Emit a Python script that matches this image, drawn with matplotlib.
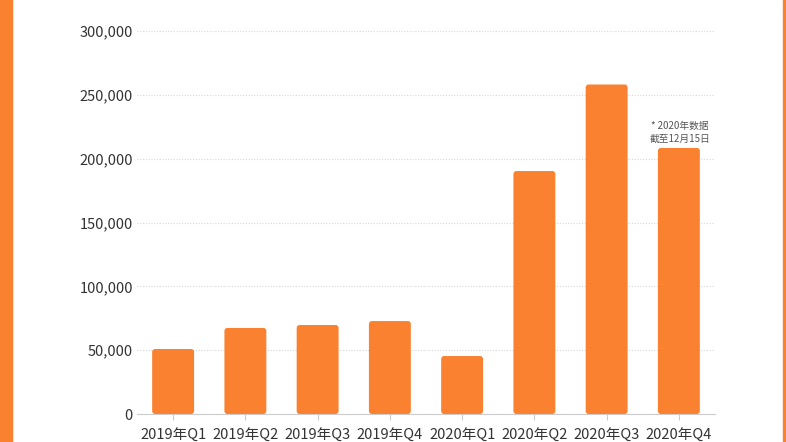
import matplotlib
matplotlib.use("Agg")
import matplotlib.pyplot as plt
from matplotlib.patches import FancyBboxPatch, Rectangle
from matplotlib.ticker import FuncFormatter

plt.rcParams["font.family"] = ["Noto Sans CJK SC", "DejaVu Sans"]

quarters = ["2019年Q1", "2019年Q2", "2019年Q3", "2019年Q4",
            "2020年Q1", "2020年Q2", "2020年Q3", "2020年Q4"]
counts = [50900, 67400, 69700, 72800, 45400, 190300, 258100, 208400]
yticks = [0, 50000, 100000, 150000, 200000, 250000, 300000]
note = "* 2020年数据\n截至12月15日"

ORANGE = "#F98130"
TEXT = "#333333"

fig = plt.figure(figsize=(7.86, 4.42), dpi=100)
# orange side strips
fig.patches.append(Rectangle((0, 0), 12 / 786, 1, transform=fig.transFigure,
                             color=ORANGE, zorder=0))
fig.patches.append(Rectangle((783 / 786, 0), 3 / 786, 1, transform=fig.transFigure,
                             color=ORANGE, zorder=0))

ax = fig.add_axes([137 / 786, 28 / 442, 578 / 786, 383 / 442])
x = list(range(len(quarters)))
bars = ax.bar(x, counts, width=0.58, color=ORANGE, zorder=2)

# swap plain bars for rounded ones (about 3 px radius)
for b in bars:
    bx, by = b.get_x(), b.get_y()
    w, h = b.get_width(), b.get_height()
    b.remove()
    ax.add_patch(FancyBboxPatch((bx, by), w, h,
                                boxstyle="round,pad=0,rounding_size=0.04",
                                mutation_aspect=2350 / 0.04,
                                fc=ORANGE, ec="none", zorder=2))

ax.set_xlim(-0.5, len(quarters) - 0.5)
ax.set_ylim(0, 300000)
ax.set_yticks(yticks)
ax.yaxis.set_major_formatter(FuncFormatter(lambda v, p: f"{int(v):,}"))
ax.set_xticks(x)
ax.set_xticklabels(quarters)
ax.tick_params(axis="y", length=0, pad=3, labelsize=10.5, labelcolor=TEXT)
ax.tick_params(axis="x", length=4, color="#cccccc", pad=7, labelsize=10.5,
               labelcolor=TEXT)
ax.grid(axis="y", ls=(0, (1, 1.5)), color="#d8d8d8", lw=0.8, zorder=0)
for s in ["top", "right", "left"]:
    ax.spines[s].set_visible(False)
ax.spines["bottom"].set_color("#cccccc")

ax.annotate(note, (x[-1], counts[-1]), xytext=(1, 3), textcoords="offset points",
            ha="center", va="bottom", fontsize=7, color="#555555", linespacing=1.3)

fig.savefig("out.png", dpi=100)
